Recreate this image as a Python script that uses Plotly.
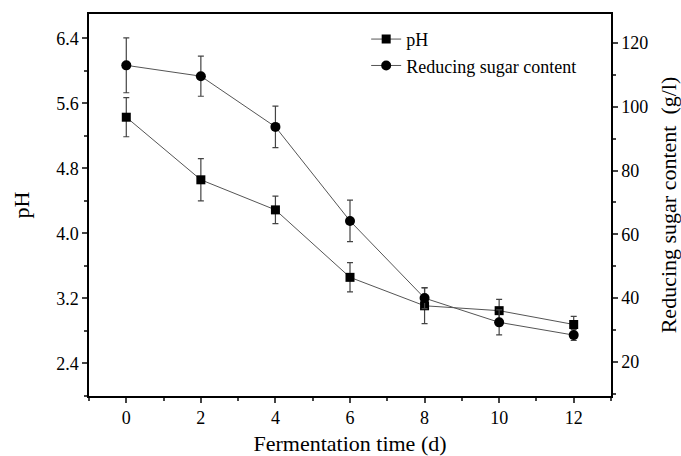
import plotly.graph_objects as go

time_d = [0, 2, 4, 6, 8, 10, 12]
ph_values = [5.43, 4.66, 4.29, 3.46, 3.11, 3.05, 2.88]
ph_err = [0.24, 0.26, 0.17, 0.18, 0.22, 0.14, 0.10]
sugar_values = [113.0, 109.6, 93.7, 64.2, 40.0, 32.4, 28.4]
sugar_err = [8.6, 6.3, 6.5, 6.5, 3.3, 3.9, 1.7]

FONT = "Liberation Serif"

fig = go.Figure()
fig.add_trace(go.Scatter(
    x=time_d, y=ph_values, name="pH", mode="lines+markers",
    line=dict(color="#555555", width=1),
    marker=dict(symbol="square", size=9, color="black"),
    error_y=dict(type="data", array=ph_err, visible=True, color="#444444", thickness=1.2, width=3),
    yaxis="y",
))
fig.add_trace(go.Scatter(
    x=time_d, y=sugar_values, name="Reducing sugar content", mode="lines+markers",
    line=dict(color="#555555", width=1),
    marker=dict(symbol="circle", size=10, color="black"),
    error_y=dict(type="data", array=sugar_err, visible=True, color="#444444", thickness=1.2, width=3),
    yaxis="y2",
))

fig.update_layout(
    template="none",
    width=681, height=456,
    margin=dict(l=89, r=70, t=14, b=60),
    paper_bgcolor="white", plot_bgcolor="white",
    font=dict(family=FONT, size=18, color="black"),
    showlegend=True,
    legend=dict(x=0.531, y=0.982, xanchor="left", yanchor="top",
                bgcolor="rgba(0,0,0,0)", font=dict(size=18), tracegroupgap=0,
                itemwidth=30),
    xaxis=dict(
        automargin=False,
        range=[-1, 13], tick0=0, dtick=2, ticks="outside", ticklen=5, tickwidth=1.5,
        showline=True, linecolor="black", linewidth=1.5, mirror=True,
        showgrid=False, zeroline=False,
        minor=dict(dtick=1, ticks="outside", ticklen=3, tickwidth=1.5, showgrid=False),
        title=dict(text="Fermentation time (d)", font=dict(size=22), standoff=18),
        tickfont=dict(size=18),
    ),
    yaxis=dict(
        automargin=False,
        range=[2.0, 6.7], tick0=2.4, dtick=0.8, tickformat=".1f",
        ticks="outside", ticklen=5, tickwidth=1.5,
        showline=True, linecolor="black", linewidth=1.5,
        showgrid=False, zeroline=False,
        minor=dict(dtick=0.4, tick0=2.4, ticks="outside", ticklen=3, tickwidth=1.5, showgrid=False),
        title=dict(text="pH", font=dict(size=22), standoff=20),
        tickfont=dict(size=18),
    ),
    yaxis2=dict(
        automargin=False,
        range=[9.3, 129.1], tick0=20, dtick=20, overlaying="y", side="right",
        ticks="outside", ticklen=5, tickwidth=1.5,
        showline=True, linecolor="black", linewidth=1.5,
        showgrid=False, zeroline=False,
        minor=dict(dtick=10, tick0=20, ticks="outside", ticklen=3, tickwidth=1.5, showgrid=False),
        title=dict(text="Reducing sugar content\u00a0\u00a0(g/l)", font=dict(size=22), standoff=17),
        tickfont=dict(size=18),
    ),
)

fig.write_html("out.html", config={"displayModeBar": False},
               post_script="document.body.style.margin='0';document.body.style.overflow='hidden';")
